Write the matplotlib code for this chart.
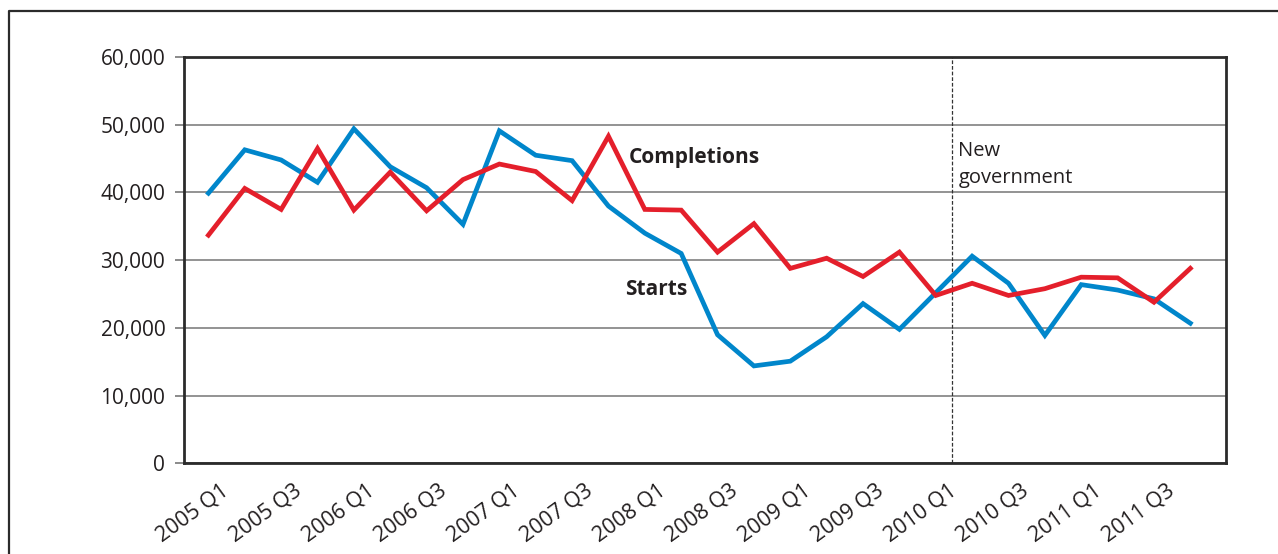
import matplotlib
matplotlib.use("Agg")
import matplotlib.pyplot as plt
import matplotlib.transforms as mtransforms
from matplotlib.lines import Line2D

plt.rcParams['font.family'] = ['Open Sans', 'DejaVu Sans']

# Quarterly housing data, 2005 Q1 - 2011 Q4
quarters = [f"{y} Q{q}" for y in range(2005, 2012) for q in range(1, 5)]
starts = [39900, 46300, 44800, 41500, 49400, 43800, 40700, 35300,
          49100, 45500, 44700, 38000, 34000, 31000, 19000, 14400,
          15100, 18700, 23600, 19800, 25200, 30600, 26600, 18900,
          26400, 25600, 24300, 20700]
completions = [33700, 40600, 37500, 46500, 37400, 43000, 37300, 41900,
               44200, 43100, 38800, 48300, 37500, 37400, 31200, 35400,
               28800, 30300, 27600, 31200, 24800, 26600, 24800, 25800,
               27500, 27400, 23800, 28800]
election_pos = 20.45  # May 2010, in quarter-index units
y_ticks = [0, 10000, 20000, 30000, 40000, 50000, 60000]

x = list(range(len(quarters)))

fig = plt.figure(figsize=(12.78, 5.54), dpi=100)
ax = fig.add_axes([0.144, 0.1634, 0.8153, 0.7337])

ax.plot(x, starts, color="#0086CB", linewidth=3.4, solid_joinstyle='miter', zorder=3)
ax.plot(x, completions, color="#E41F2B", linewidth=3.4, solid_joinstyle='miter', zorder=4)

ax.axvline(election_pos, color="#333333", linestyle=(0, (3, 1.5)), linewidth=0.9, zorder=2)

ax.set_xlim(-0.67, 27.98)
ax.set_ylim(0, 60000)
ax.set_yticks(y_ticks)
ax.set_yticklabels([f"{v:,}" for v in y_ticks], fontsize=15, color="#231F20")
ax.yaxis.grid(True, color="#8a8a8a", linewidth=1.3)
ax.set_axisbelow(True)
ax.tick_params(axis='y', length=6.5, width=1.2, color="#777777", pad=7)

ax.set_xticks(x[::2])
ax.set_xticklabels(quarters[::2], fontsize=15.5, color="#231F20",
                   rotation=36, rotation_mode='anchor', ha='right', va='top')
ax.tick_params(axis='x', length=0, pad=12)
offset = mtransforms.ScaledTranslation(0.12, 0, fig.dpi_scale_trans)
for lbl in ax.get_xticklabels():
    lbl.set_transform(lbl.get_transform() + offset)

for s in ax.spines.values():
    s.set_color("#2b2b2b")
    s.set_linewidth(2)

ax.text(11.57, 45100, "Completions", fontsize=15, fontweight='bold',
        color="#231F20", va='center', ha='left')
ax.text(11.46, 25700, "Starts", fontsize=15, fontweight='bold',
        color="#231F20", va='center', ha='left')
ax.text(20.62, 47600, "New\ngovernment", fontsize=14.5, color="#231F20",
        va='top', ha='left', linespacing=1.45)

# outer frame (top and left edges)
fx = 9 / 1278
fy = 1 - 10.5 / 554
fig.add_artist(Line2D([fx, fx, 1.0], [0.0, fy, fy], color="#2b2b2b",
                      linewidth=1.6, transform=fig.transFigure))

fig.savefig("out.png", dpi=100)
